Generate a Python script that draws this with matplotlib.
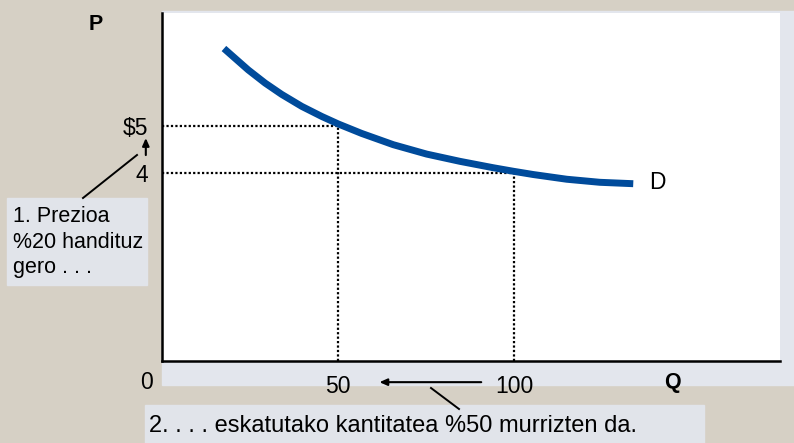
import matplotlib.pyplot as plt
from matplotlib.patches import Rectangle

plt.rcParams['font.family'] = ['Liberation Sans', 'DejaVu Sans']

# demand curve
quantity = [17.6, 24.5, 29.3, 34.0, 39.7, 45.4, 50.1, 56.7, 65.7, 75.2,
            84.7, 94.1, 99.8, 105.5, 115.0, 124.4, 133.9]
price = [6.645, 6.19, 5.91, 5.67, 5.415, 5.20, 5.04, 4.84, 4.60, 4.40,
         4.245, 4.11, 4.035, 3.965, 3.865, 3.80, 3.77]

q_marks = [50, 100]
p_marks = [5, 4]
q_labels = ['50', '100']
p_labels = [r'\$5', '4']

W, H = 794, 443
BEIGE = '#d6d0c5'
PANEL = '#e3e6ed'
BOX = '#e1e4ea'
BLUE = '#004b9b'
FS = 15.5
FS_TICK = 16.5

fig = plt.figure(figsize=(W / 100, H / 100), dpi=100, facecolor=BEIGE)

# background layer in pixel units (y down, like the picture)
bg = fig.add_axes([0, 0, 1, 1], zorder=0)
bg.set_xlim(0, W)
bg.set_ylim(H, 0)
bg.axis('off')
bg.add_patch(Rectangle((162, 11), 632, 374, color=PANEL))
bg.add_patch(Rectangle((7, 198), 140, 87, color=BOX))
bg.add_patch(Rectangle((145, 405), 559, 40, color=BOX))
bg.plot([83, 137], [198, 155], color='black', lw=1.4)
bg.plot([431, 459], [388, 409], color='black', lw=1.4)
bg.text(13, 242, '1. Prezioa\n%20 handituz\ngero . . .', fontsize=FS,
        ha='left', va='center', linespacing=1.3)
bg.text(149, 426, '2. . . . eskatutako kantitatea %50 murrizten da.', fontsize=17,
        ha='left', va='center')

ax = fig.add_axes([162 / W, 1 - 361 / H, (780 - 162) / W, (361 - 13) / H], zorder=1)
ax.set_facecolor('white')
ax.set_xlim(0, 175.6)
ax.set_ylim(0, 7.40)
for s in ['top', 'right']:
    ax.spines[s].set_visible(False)
for s in ['left', 'bottom']:
    ax.spines[s].set_linewidth(1.8)
    ax.spines[s].set_zorder(5)

ax.plot(quantity, price, color=BLUE, lw=5, solid_capstyle='butt',
        solid_joinstyle='round', zorder=4)

for q, p in zip(q_marks, p_marks):
    ax.plot([0, q], [p, p], color='black', ls=(0, (1, 1)), lw=1.6, zorder=3)
    ax.plot([q, q], [0, p], color='black', ls=(0, (1, 1)), lw=1.6, zorder=3)

ax.set_xticks(q_marks, q_labels)
ax.set_yticks(p_marks, p_labels)
ax.tick_params(length=0, labelsize=FS_TICK)
ax.tick_params(axis='x', pad=10)
ax.tick_params(axis='y', pad=10)

ax.text(-4.5, -0.45, '0', fontsize=FS_TICK, ha='center', va='center', clip_on=False)
ax.text(145, -0.45, 'Q', fontsize=FS, fontweight='bold', ha='center', va='center', clip_on=False)
ax.text(-18.8, 7.15, 'P', fontsize=FS, fontweight='bold', ha='center', va='center', clip_on=False)
ax.text(138.5, 3.79, 'D', fontsize=FS_TICK, ha='left', va='center')

# small arrows from 4 to $5 and from 100 to 50
ax.annotate('', xy=(-4.6, 4.8), xytext=(-4.6, 4.32), annotation_clip=False,
            arrowprops=dict(arrowstyle='-|>,head_length=0.45,head_width=0.2', color='black', lw=1.5))
ax.annotate('', xy=(61, -0.45), xytext=(91.5, -0.45), annotation_clip=False,
            arrowprops=dict(arrowstyle='-|>,head_length=0.45,head_width=0.2', color='black', lw=1.5))

fig.savefig('out.png', dpi=100, facecolor=BEIGE)
